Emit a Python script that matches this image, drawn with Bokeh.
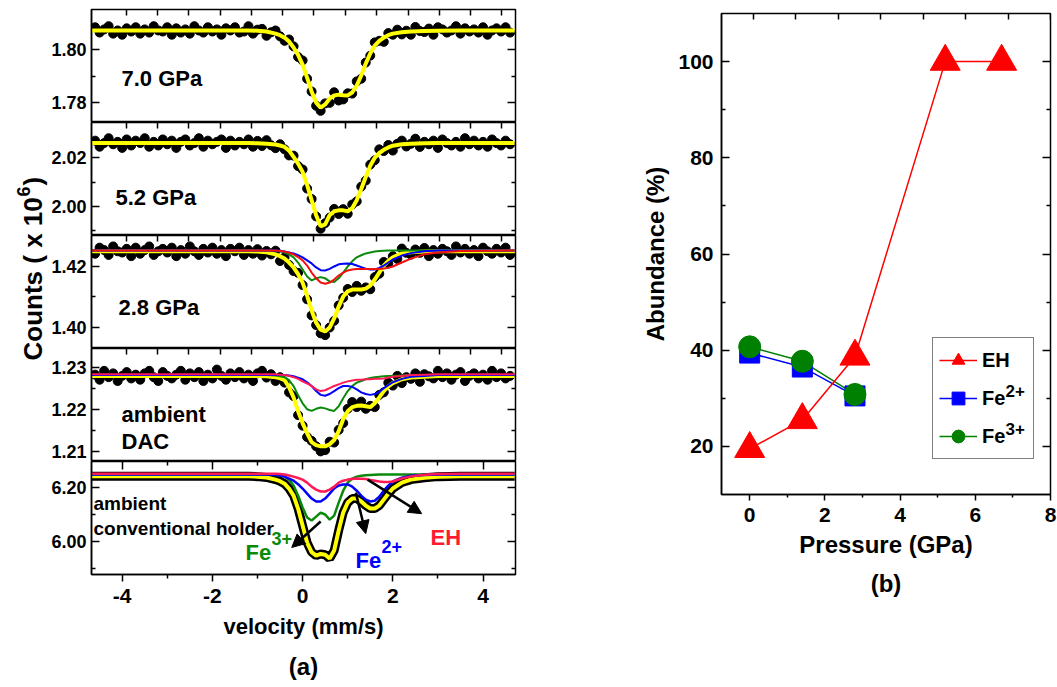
import math
from bokeh.plotting import figure
from bokeh.models import (LinearAxis, FixedTicker, PrintfTickFormatter, CustomJSTickFormatter,
                          Range1d, Label, Arrow, NormalHead, Legend, LegendItem, Title)
from bokeh.layouts import row, column
from bokeh.embed import file_html
from bokeh.resources import INLINE

FONT = "Liberation Sans"

# ---------------- data: Moessbauer spectra (panel a) ----------------
VEL_DOTS = [-4.6, -4.5, -4.4, -4.3, -4.2, -4.1, -4.0, -3.9, -3.8, -3.7, -3.6, -3.5, -3.4, -3.3,
            -3.2, -3.1, -3.0, -2.9, -2.8, -2.7, -2.6, -2.5, -2.4, -2.3, -2.2, -2.1, -2.0, -1.9,
            -1.8, -1.7, -1.6, -1.5, -1.4, -1.3, -1.2, -1.1, -1.0, -0.9, -0.8, -0.7, -0.6, -0.5,
            -0.4, -0.3, -0.2, -0.1, 0.0, 0.1, 0.2, 0.3, 0.4, 0.5, 0.6, 0.7, 0.8, 0.9, 1.0, 1.1,
            1.2, 1.3, 1.4, 1.5, 1.6, 1.7, 1.8, 1.9, 2.0, 2.1, 2.2, 2.3, 2.4, 2.5, 2.6, 2.7, 2.8,
            2.9, 3.0, 3.1, 3.2, 3.3, 3.4, 3.5, 3.6, 3.7, 3.8, 3.9, 4.0, 4.1, 4.2, 4.3, 4.4, 4.5, 4.6]

DOTS_7GPA = [1.8084, 1.8064, 1.8076, 1.8088, 1.8060, 1.8072, 1.8056, 1.8080, 1.8068, 1.8084,
             1.8060, 1.8076, 1.8064, 1.8088, 1.8072, 1.8068, 1.8084, 1.8056, 1.8080, 1.8064,
             1.8076, 1.8060, 1.8088, 1.8072, 1.8064, 1.8084, 1.8068, 1.8076, 1.8056, 1.8080,
             1.8072, 1.8084, 1.8064, 1.8068, 1.8088, 1.8060, 1.8075, 1.8078, 1.8052, 1.8065,
             1.8072, 1.8050, 1.8033, 1.8038, 1.8012, 1.7972, 1.7959, 1.7890, 1.7842, 1.7788,
             1.7769, 1.7797, 1.7799, 1.7839, 1.7808, 1.7812, 1.7835, 1.7834, 1.7880, 1.7890,
             1.7951, 1.7977, 1.8027, 1.8033, 1.8029, 1.8062, 1.8056, 1.8075, 1.8057, 1.8071,
             1.8056, 1.8085, 1.8070, 1.8066, 1.8079, 1.8056, 1.8084, 1.8076, 1.8064, 1.8072,
             1.8088, 1.8060, 1.8080, 1.8068, 1.8076, 1.8064, 1.8084, 1.8056, 1.8072, 1.8080,
             1.8068, 1.8084, 1.8064]

DOTS_52GPA = [2.0271, 2.0246, 2.0261, 2.0281, 2.0256, 2.0266, 2.0241, 2.0276, 2.0251, 2.0271,
              2.0261, 2.0281, 2.0246, 2.0266, 2.0251, 2.0276, 2.0256, 2.0271, 2.0241, 2.0266,
              2.0276, 2.0251, 2.0261, 2.0281, 2.0246, 2.0271, 2.0256, 2.0266, 2.0276, 2.0241,
              2.0271, 2.0251, 2.0266, 2.0256, 2.0276, 2.0246, 2.0270, 2.0249, 2.0273, 2.0252,
              2.0240, 2.0256, 2.0235, 2.0210, 2.0209, 2.0166, 2.0152, 2.0073, 2.0030, 1.9958,
              1.9907, 1.9930, 1.9953, 1.9989, 1.9968, 1.9988, 1.9969, 2.0007, 2.0020, 2.0081,
              2.0106, 2.0172, 2.0190, 2.0235, 2.0228, 2.0253, 2.0230, 2.0258, 2.0271, 2.0247,
              2.0258, 2.0279, 2.0245, 2.0266, 2.0256, 2.0271, 2.0241, 2.0276, 2.0261, 2.0251,
              2.0266, 2.0246, 2.0281, 2.0256, 2.0271, 2.0251, 2.0266, 2.0246, 2.0276, 2.0261,
              2.0251, 2.0271, 2.0256]

DOTS_28GPA = [1.4242, 1.4262, 1.4254, 1.4238, 1.4266, 1.4250, 1.4246, 1.4258, 1.4234, 1.4262,
              1.4242, 1.4254, 1.4266, 1.4238, 1.4250, 1.4258, 1.4246, 1.4262, 1.4234, 1.4254,
              1.4242, 1.4266, 1.4250, 1.4238, 1.4258, 1.4246, 1.4262, 1.4242, 1.4254, 1.4234,
              1.4258, 1.4250, 1.4262, 1.4238, 1.4254, 1.4242, 1.4257, 1.4236, 1.4251, 1.4240,
              1.4252, 1.4218, 1.4230, 1.4205, 1.4185, 1.4179, 1.4139, 1.4092, 1.4039, 1.4007,
              1.3980, 1.3974, 1.3999, 1.4021, 1.4072, 1.4097, 1.4126, 1.4116, 1.4136, 1.4120,
              1.4131, 1.4125, 1.4165, 1.4176, 1.4215, 1.4210, 1.4234, 1.4225, 1.4259, 1.4245,
              1.4239, 1.4256, 1.4245, 1.4261, 1.4234, 1.4254, 1.4242, 1.4258, 1.4250, 1.4238,
              1.4266, 1.4246, 1.4258, 1.4242, 1.4254, 1.4234, 1.4262, 1.4250, 1.4242, 1.4258,
              1.4246, 1.4262, 1.4238]

DOTS_DAC = [1.2282, 1.2270, 1.2291, 1.2276, 1.2285, 1.2267, 1.2279, 1.2288, 1.2273, 1.2282,
            1.2270, 1.2285, 1.2291, 1.2276, 1.2267, 1.2288, 1.2279, 1.2273, 1.2282, 1.2291,
            1.2270, 1.2285, 1.2276, 1.2288, 1.2267, 1.2282, 1.2273, 1.2294, 1.2279, 1.2270,
            1.2285, 1.2276, 1.2288, 1.2273, 1.2282, 1.2267, 1.2285, 1.2291, 1.2275, 1.2283,
            1.2267, 1.2276, 1.2263, 1.2240, 1.2231, 1.2186, 1.2161, 1.2134, 1.2125, 1.2112,
            1.2100, 1.2103, 1.2123, 1.2121, 1.2151, 1.2167, 1.2201, 1.2217, 1.2205, 1.2218,
            1.2201, 1.2208, 1.2205, 1.2234, 1.2240, 1.2263, 1.2256, 1.2279, 1.2262, 1.2276,
            1.2272, 1.2285, 1.2265, 1.2283, 1.2278, 1.2273, 1.2291, 1.2276, 1.2285, 1.2270,
            1.2282, 1.2288, 1.2267, 1.2279, 1.2285, 1.2273, 1.2282, 1.2270, 1.2291, 1.2276,
            1.2285, 1.2273, 1.2279]

FIT_V = [-4.7, -3.0, -2.0, -1.5, -1.2, -1.0, -0.8, -0.6, -0.5, -0.4, -0.3, -0.2, -0.1, 0.0,
         0.1, 0.2, 0.3, 0.4, 0.5, 0.6, 0.7, 0.8, 0.9, 1.0, 1.1, 1.2, 1.3, 1.4, 1.5, 1.6, 1.7,
         1.8, 1.9, 2.0, 2.2, 2.4, 2.7, 3.0, 3.5, 4.7]

FIT_7GPA = [1.8072, 1.8072, 1.8072, 1.8072, 1.8072, 1.8071, 1.8068, 1.8060, 1.8054, 1.8045,
            1.8030, 1.8008, 1.7980, 1.7943, 1.7894, 1.7842, 1.7800, 1.7781, 1.7793, 1.7815,
            1.7827, 1.7830, 1.7828, 1.7827, 1.7838, 1.7864, 1.7902, 1.7947, 1.7985, 1.8015,
            1.8033, 1.8045, 1.8054, 1.8060, 1.8065, 1.8068, 1.8070, 1.8071, 1.8072, 1.8072]

FIT_52GPA = [2.0261, 2.0261, 2.0261, 2.0261, 2.0261, 2.0260, 2.0258, 2.0255, 2.0251, 2.0245,
             2.0230, 2.0204, 2.0176, 2.0142, 2.0088, 2.0025, 1.9963, 1.9917, 1.9925, 1.9963,
             1.9979, 1.9983, 1.9983, 1.9979, 1.9992, 2.0025, 2.0071, 2.0121, 2.0167, 2.0200,
             2.0220, 2.0233, 2.0243, 2.0250, 2.0256, 2.0258, 2.0260, 2.0261, 2.0261, 2.0261]

FIT_28GPA = [1.4250, 1.4250, 1.4250, 1.4250, 1.4250, 1.4249, 1.4247, 1.4240, 1.4234, 1.4226,
             1.4213, 1.4197, 1.4175, 1.4147, 1.4104, 1.4055, 1.4015, 1.3992, 1.3986, 1.3999,
             1.4029, 1.4068, 1.4101, 1.4118, 1.4124, 1.4124, 1.4124, 1.4127, 1.4137, 1.4157,
             1.4180, 1.4203, 1.4218, 1.4230, 1.4243, 1.4247, 1.4249, 1.4250, 1.4250, 1.4250]
EH_28GPA = [1.4253, 1.4253, 1.4253, 1.4253, 1.4253, 1.4253, 1.4253, 1.4253, 1.4251, 1.4249,
            1.4245, 1.4240, 1.4231, 1.4220, 1.4203, 1.4180, 1.4161, 1.4147, 1.4143, 1.4147,
            1.4157, 1.4170, 1.4180, 1.4187, 1.4190, 1.4192, 1.4192, 1.4192, 1.4192, 1.4192,
            1.4192, 1.4193, 1.4196, 1.4200, 1.4213, 1.4226, 1.4240, 1.4246, 1.4251, 1.4253]
FE2_28GPA = [1.4253, 1.4253, 1.4253, 1.4253, 1.4253, 1.4253, 1.4253, 1.4253, 1.4252, 1.4249,
             1.4246, 1.4243, 1.4237, 1.4230, 1.4220, 1.4210, 1.4197, 1.4188, 1.4187, 1.4192,
             1.4200, 1.4207, 1.4209, 1.4210, 1.4208, 1.4203, 1.4198, 1.4193, 1.4190, 1.4190,
             1.4195, 1.4203, 1.4213, 1.4223, 1.4236, 1.4244, 1.4250, 1.4253, 1.4253, 1.4253]
FE3_28GPA = [1.4253, 1.4253, 1.4253, 1.4253, 1.4253, 1.4253, 1.4253, 1.4253, 1.4250, 1.4246,
             1.4240, 1.4230, 1.4213, 1.4190, 1.4167, 1.4154, 1.4161, 1.4165, 1.4161, 1.4151,
             1.4149, 1.4161, 1.4180, 1.4200, 1.4217, 1.4230, 1.4237, 1.4243, 1.4246, 1.4249,
             1.4251, 1.4252, 1.4253, 1.4253, 1.4253, 1.4253, 1.4253, 1.4253, 1.4253, 1.4253]

FIT_DAC = [1.2279, 1.2279, 1.2279, 1.2279, 1.2279, 1.2279, 1.2278, 1.2276, 1.2273, 1.2269,
           1.2252, 1.2228, 1.2195, 1.2167, 1.2143, 1.2122, 1.2115, 1.2112, 1.2112, 1.2117,
           1.2127, 1.2148, 1.2176, 1.2195, 1.2205, 1.2208, 1.2209, 1.2207, 1.2205, 1.2214,
           1.2228, 1.2243, 1.2254, 1.2262, 1.2271, 1.2275, 1.2277, 1.2279, 1.2279, 1.2279]
EH_DAC = [1.2283, 1.2283, 1.2283, 1.2283, 1.2283, 1.2283, 1.2283, 1.2283, 1.2282, 1.2281,
          1.2279, 1.2276, 1.2272, 1.2266, 1.2261, 1.2255, 1.2247, 1.2243, 1.2245, 1.2250,
          1.2255, 1.2259, 1.2263, 1.2266, 1.2268, 1.2270, 1.2270, 1.2271, 1.2271, 1.2272,
          1.2272, 1.2273, 1.2275, 1.2277, 1.2279, 1.2281, 1.2282, 1.2283, 1.2283, 1.2283]
FE2_DAC = [1.2281, 1.2281, 1.2281, 1.2281, 1.2281, 1.2281, 1.2281, 1.2281, 1.2281, 1.2281,
           1.2280, 1.2278, 1.2275, 1.2271, 1.2264, 1.2255, 1.2243, 1.2234, 1.2232, 1.2236,
           1.2243, 1.2250, 1.2255, 1.2255, 1.2253, 1.2247, 1.2240, 1.2236, 1.2234, 1.2236,
           1.2241, 1.2250, 1.2257, 1.2264, 1.2272, 1.2277, 1.2279, 1.2281, 1.2281, 1.2281]
FE3_DAC = [1.2281, 1.2281, 1.2281, 1.2281, 1.2281, 1.2281, 1.2281, 1.2280, 1.2278, 1.2276,
           1.2269, 1.2255, 1.2233, 1.2214, 1.2200, 1.2196, 1.2201, 1.2204, 1.2202, 1.2198,
           1.2196, 1.2207, 1.2226, 1.2243, 1.2255, 1.2263, 1.2267, 1.2271, 1.2274, 1.2276,
           1.2277, 1.2278, 1.2279, 1.2279, 1.2280, 1.2281, 1.2281, 1.2281, 1.2281, 1.2281]

FIT_CONV = [6.240, 6.240, 6.240, 6.240, 6.240, 6.239, 6.236, 6.228, 6.222, 6.213,
            6.195, 6.169, 6.121, 6.058, 5.995, 5.960, 5.947, 5.953, 5.950, 5.936,
            5.966, 6.040, 6.106, 6.143, 6.158, 6.158, 6.147, 6.132, 6.121, 6.121,
            6.132, 6.154, 6.176, 6.195, 6.217, 6.228, 6.235, 6.239, 6.240, 6.240]
EH_CONV = [6.250, 6.250, 6.250, 6.250, 6.250, 6.250, 6.250, 6.250, 6.249, 6.247,
           6.243, 6.239, 6.234, 6.228, 6.217, 6.202, 6.191, 6.184, 6.184, 6.191,
           6.202, 6.217, 6.224, 6.228, 6.230, 6.232, 6.231, 6.230, 6.227, 6.224,
           6.221, 6.219, 6.219, 6.221, 6.232, 6.240, 6.246, 6.249, 6.250, 6.250]
FE2_CONV = [6.247, 6.247, 6.247, 6.247, 6.247, 6.247, 6.247, 6.246, 6.243, 6.239,
            6.232, 6.224, 6.211, 6.195, 6.176, 6.158, 6.147, 6.147, 6.158, 6.176,
            6.195, 6.206, 6.210, 6.210, 6.202, 6.187, 6.169, 6.154, 6.147, 6.150,
            6.165, 6.187, 6.206, 6.221, 6.235, 6.242, 6.245, 6.247, 6.247, 6.247]
FE3_CONV = [6.247, 6.247, 6.247, 6.247, 6.247, 6.247, 6.247, 6.245, 6.243, 6.239,
            6.228, 6.206, 6.169, 6.125, 6.088, 6.077, 6.091, 6.106, 6.099, 6.080,
            6.095, 6.143, 6.187, 6.217, 6.232, 6.239, 6.242, 6.244, 6.245, 6.246,
            6.247, 6.247, 6.247, 6.247, 6.247, 6.247, 6.247, 6.247, 6.247, 6.247]

# ---------------- data: abundance vs pressure (panel b) ----------------
P_EH = [0.0, 1.4, 2.8, 5.2, 6.7]
AB_EH = [19.5, 25.5, 38.7, 100.0, 100.0]
P_FE = [0.0, 1.4, 2.8]
AB_FE2 = [39.4, 36.5, 30.5]
AB_FE3 = [40.7, 37.7, 30.8]

# tick positions
TOP_TICKS_A = [-3.91, -3.22, -2.52, -1.83, -1.13, -0.44, 0.25, 0.95, 1.64, 2.34, 3.03, 3.72, 4.42]
VEL_MAJOR = [-4, -2, 0, 2, 4]
VEL_MINOR = [-3, -1, 1, 3]
TOP_TICKS_B = [0.1, 1.23, 2.36, 3.49, 4.62, 5.75, 6.88, 8.0]

XMIN, XMAX = -4.68, 4.72
BLANK = CustomJSTickFormatter(code="return ''")
YELLOW = "#ffff00"
GREEN = "#0a8a0a"
BLUE = "#0000ff"
RED3 = "#f01010"
PINK = "#ff1a55"


def txt(x, y, text, size, color="black", **kw):
    opts = dict(text_baseline="alphabetic", text_align="left")
    opts.update(kw)
    return Label(x=x, y=y, x_units="screen", y_units="screen", text=text,
                 text_font=FONT, text_font_style="bold", text_font_size=size,
                 text_color=color, **opts)


def no_grid(p):
    for g in p.grid:
        g.visible = False


def make_panel(ylo, yhi, majors, minors, top_ticks, top_minor, top_in, border_top, border_bottom):
    p = figure(frame_width=424, frame_height=113, x_range=Range1d(XMIN, XMAX),
               y_range=Range1d(ylo, yhi), x_axis_location=None, y_axis_location=None,
               toolbar_location=None, output_backend="svg", title=None,
               min_border_left=40, min_border_right=48, min_border_top=border_top,
               min_border_bottom=border_bottom, outline_line_color="black",
               outline_line_width=1.5, background_fill_color="white", border_fill_color="white")
    no_grid(p)
    left = LinearAxis(ticker=FixedTicker(ticks=majors, minor_ticks=minors),
                      formatter=PrintfTickFormatter(format="%.2f"),
                      major_tick_in=8, major_tick_out=0, minor_tick_in=4, minor_tick_out=0,
                      major_label_standoff=5, major_label_text_font=FONT,
                      major_label_text_font_style="bold", major_label_text_font_size="18px",
                      major_label_text_color="black", axis_line_color="black",
                      axis_line_width=1.5, major_tick_line_width=1.5, minor_tick_line_width=1.5)
    p.add_layout(left, "left")
    right = LinearAxis(fixed_location=XMAX, ticker=FixedTicker(ticks=majors, minor_ticks=minors),
                       formatter=BLANK, major_tick_in=8, major_tick_out=0, minor_tick_in=4,
                       minor_tick_out=0, axis_line_color=None, major_tick_line_width=1.5,
                       minor_tick_line_width=1.5)
    p.add_layout(right, "right")
    top = LinearAxis(fixed_location=yhi, ticker=FixedTicker(ticks=top_ticks, minor_ticks=top_minor),
                     formatter=BLANK, major_tick_in=top_in, major_tick_out=0, minor_tick_in=4,
                     minor_tick_out=0, axis_line_color=None, major_tick_line_width=1.5,
                     minor_tick_line_width=1.5)
    p.add_layout(top, "above")
    return p


# ---- panel 1: 7.0 GPa
p1 = make_panel(1.7725, 1.8151, [1.78, 1.80], [1.79], TOP_TICKS_A, [], 6, 9, 0)
p1.scatter(VEL_DOTS, DOTS_7GPA, size=9, color="black")
p1.line(FIT_V, FIT_7GPA, line_color=YELLOW, line_width=4)
p1.add_layout(txt(30, 44, "7.0 GPa", "22px"))

# ---- panel 2: 5.2 GPa
p2 = make_panel(1.9879, 2.0346, [2.00, 2.02], [1.99, 2.01], TOP_TICKS_A, [], 6, 0, 0)
p2.scatter(VEL_DOTS, DOTS_52GPA, size=9, color="black")
p2.line(FIT_V, FIT_52GPA, line_color=YELLOW, line_width=4)
p2.add_layout(txt(24, 38, "5.2 GPa", "22px"))

# ---- panel 3: 2.8 GPa
p3 = make_panel(1.3930, 1.4302, [1.40, 1.42], [1.41], TOP_TICKS_A, [], 6, 0, 0)
p3.scatter(VEL_DOTS, DOTS_28GPA, size=9, color="black")
p3.line(FIT_V, FIT_28GPA, line_color=YELLOW, line_width=4)
p3.line(FIT_V, FE3_28GPA, line_color=GREEN, line_width=2)
p3.line(FIT_V, FE2_28GPA, line_color=BLUE, line_width=2)
p3.line(FIT_V, EH_28GPA, line_color=RED3, line_width=2)
p3.add_layout(txt(27, 41, "2.8 GPa", "22px"))

# ---- panel 4: ambient DAC
p4 = make_panel(1.2076, 1.2344, [1.21, 1.22, 1.23], [1.215, 1.225], TOP_TICKS_A, [], 6, 0, 0)
p4.scatter(VEL_DOTS, DOTS_DAC, size=9, color="black")
p4.line(FIT_V, FIT_DAC, line_color=YELLOW, line_width=4)
p4.line(FIT_V, FE3_DAC, line_color=GREEN, line_width=2)
p4.line(FIT_V, FE2_DAC, line_color=BLUE, line_width=2)
p4.line(FIT_V, EH_DAC, line_color=PINK, line_width=2)
p4.add_layout(txt(30, 47, "ambient", "22px"))
p4.add_layout(txt(30, 20, "DAC", "22px"))

# ---- panel 5: ambient, conventional holder
p5 = make_panel(5.877, 6.295, [6.00, 6.20], [5.90, 6.10], VEL_MAJOR, VEL_MINOR, 8, 0, 113)
bottom = LinearAxis(ticker=FixedTicker(ticks=VEL_MAJOR, minor_ticks=VEL_MINOR),
                    formatter=PrintfTickFormatter(format="%d"),
                    major_tick_in=0, major_tick_out=7, minor_tick_in=0, minor_tick_out=4,
                    major_label_standoff=7, major_label_text_font=FONT,
                    major_label_text_font_style="bold", major_label_text_font_size="21px",
                    major_label_text_color="black",
                    axis_label="velocity (mm/s)", axis_label_text_font=FONT,
                    axis_label_text_font_style="bold", axis_label_text_font_size="22px",
                    axis_label_text_color="black", axis_line_color="black",
                    axis_label_standoff=8, axis_line_width=1.5, major_tick_line_width=1.5,
                    minor_tick_line_width=1.5)
p5.add_layout(bottom, "below")
p5.add_layout(Title(text="(a)", align="center", offset=-12, standoff=18, text_font=FONT,
                    text_font_style="bold", text_font_size="24px", text_color="black"), "below")
p5.line(FIT_V, FIT_CONV, line_color="black", line_width=9)
p5.line(FIT_V, FIT_CONV, line_color=YELLOW, line_width=4)
p5.line(FIT_V, FE3_CONV, line_color=GREEN, line_width=2.5)
p5.line(FIT_V, FE2_CONV, line_color=BLUE, line_width=2.5)
p5.line(FIT_V, EH_CONV, line_color=PINK, line_width=2.5)
for xs, ys, xe, ye in [(0.40, 6.073, -0.24, 5.977), (1.18, 6.180, 1.40, 6.028),
                       (1.44, 6.228, 2.64, 6.102)]:
    p5.add_layout(Arrow(end=NormalHead(size=13, fill_color="black", line_color="black"),
                        x_start=xs, y_start=ys, x_end=xe, y_end=ye,
                        line_color="black", line_width=2.5))
p5.add_layout(txt(2, 71, "ambient", "19px"))
p5.add_layout(txt(2, 46, "conventional holder", "19px"))
p5.add_layout(txt(339, 37, "EH", "22px", color="#ff1a2e"))
p5.add_layout(txt(264, 14, "Fe", "22px", color=BLUE))
p5.add_layout(txt(290, 28, "2+", "18px", color=BLUE))
p5.add_layout(txt(154, 22, "Fe", "22px", color=GREEN))
p5.add_layout(txt(180, 36, "3+", "18px", color=GREEN))

# ---- y-axis title for stacked panels
lab = figure(frame_width=48, frame_height=687, x_range=Range1d(0, 1), y_range=Range1d(0, 1),
             x_axis_location=None, y_axis_location=None, toolbar_location=None,
             output_backend="svg", title=None, min_border=0, outline_line_color=None)
no_grid(lab)
lab.add_layout(txt(32, 340, "Counts ( x 10", "26px", angle=math.pi / 2, text_baseline="middle"))
lab.add_layout(txt(23, 504, "6", "18px", angle=math.pi / 2, text_baseline="middle"))
lab.add_layout(txt(32, 515, ")", "26px", angle=math.pi / 2, text_baseline="middle"))

# ---------------- panel (b) ----------------
pr = figure(frame_width=329, frame_height=481, x_range=Range1d(-0.75, 8.0), y_range=Range1d(10, 110),
            x_axis_location=None, y_axis_location=None, toolbar_location=None,
            output_backend="svg", title=None, min_border_left=158, min_border_right=10,
            min_border_top=13, min_border_bottom=193, outline_line_color="black",
            outline_line_width=1.5)
no_grid(pr)
ab_major = [20, 40, 60, 80, 100]
ab_minor = [30, 50, 70, 90]
pr.add_layout(LinearAxis(ticker=FixedTicker(ticks=ab_major, minor_ticks=ab_minor),
                         formatter=PrintfTickFormatter(format="%d"),
                         major_tick_in=8, major_tick_out=0, minor_tick_in=4, minor_tick_out=0,
                         major_label_standoff=8, major_label_text_font=FONT,
                         major_label_text_font_style="bold", major_label_text_font_size="21px",
                         major_label_text_color="black",
                         axis_label="Abundance (%)", axis_label_text_font=FONT,
                         axis_label_text_font_style="bold", axis_label_text_font_size="24px",
                         axis_label_text_color="black", axis_line_color="black",
                         axis_label_standoff=6, axis_line_width=1.5, major_tick_line_width=1.5,
                         minor_tick_line_width=1.5), "left")
pr.add_layout(LinearAxis(fixed_location=8.0, ticker=FixedTicker(ticks=ab_major, minor_ticks=ab_minor),
                         formatter=BLANK, major_tick_in=8, major_tick_out=0, minor_tick_in=4,
                         minor_tick_out=0, axis_line_color=None, major_tick_line_width=1.5,
                         minor_tick_line_width=1.5), "right")
pr.add_layout(LinearAxis(ticker=FixedTicker(ticks=[0, 2, 4, 6, 8], minor_ticks=[1, 3, 5, 7]),
                         formatter=PrintfTickFormatter(format="%d"),
                         major_tick_in=0, major_tick_out=6, minor_tick_in=0, minor_tick_out=3,
                         major_label_standoff=7, major_label_text_font=FONT,
                         major_label_text_font_style="bold", major_label_text_font_size="21px",
                         major_label_text_color="black",
                         axis_label="Pressure (GPa)", axis_label_text_font=FONT,
                         axis_label_text_font_style="bold", axis_label_text_font_size="24px",
                         axis_label_text_color="black", axis_line_color="black",
                         axis_label_standoff=6, axis_line_width=1.5, major_tick_line_width=1.5,
                         minor_tick_line_width=1.5), "below")
pr.add_layout(Title(text="(b)", align="center", offset=-18, standoff=15, text_font=FONT,
                    text_font_style="bold", text_font_size="24px", text_color="black"), "below")
pr.add_layout(LinearAxis(fixed_location=110, ticker=FixedTicker(ticks=TOP_TICKS_B),
                         formatter=BLANK, major_tick_in=6, major_tick_out=0, minor_tick_in=0,
                         minor_tick_out=0, axis_line_color=None, major_tick_line_width=1.5), "above")

l_fe2 = pr.line(P_FE, AB_FE2, line_color=BLUE, line_width=1.5)
l_fe3 = pr.line(P_FE, AB_FE3, line_color="#008000", line_width=1.5)
l_eh = pr.line(P_EH, AB_EH, line_color="#ff0000", line_width=1.5)
m_fe2 = pr.scatter(P_FE, AB_FE2, marker="square", size=20, color=BLUE)
m_fe3 = pr.scatter(P_FE, AB_FE3, marker="circle", size=22, color="#008000")
m_eh = pr.scatter(P_EH, AB_EH, marker="triangle", size=30, color="#ff0000")

legend = Legend(items=[LegendItem(label="EH", renderers=[l_eh, m_eh]),
                       LegendItem(label="Fe", renderers=[l_fe2, m_fe2]),
                       LegendItem(label="Fe", renderers=[l_fe3, m_fe3])],
                location=(211, 35), orientation="vertical", padding=6, margin=0, spacing=6,
                glyph_width=38, glyph_height=32, label_standoff=5, label_width=45,
                label_text_font=FONT, label_text_font_style="bold", label_text_font_size="20px",
                label_text_color="black",
                border_line_color="black", border_line_width=1.5, background_fill_alpha=0.0)
pr.add_layout(legend, "center")
pr.add_layout(txt(284, 104, "2+", "17px", level="overlay"))
pr.add_layout(txt(284, 66, "3+", "17px", level="overlay"))

layout = row(lab, column(p1, p2, p3, p4, p5), pr)
open("out.html", "w").write(file_html(layout, INLINE))
